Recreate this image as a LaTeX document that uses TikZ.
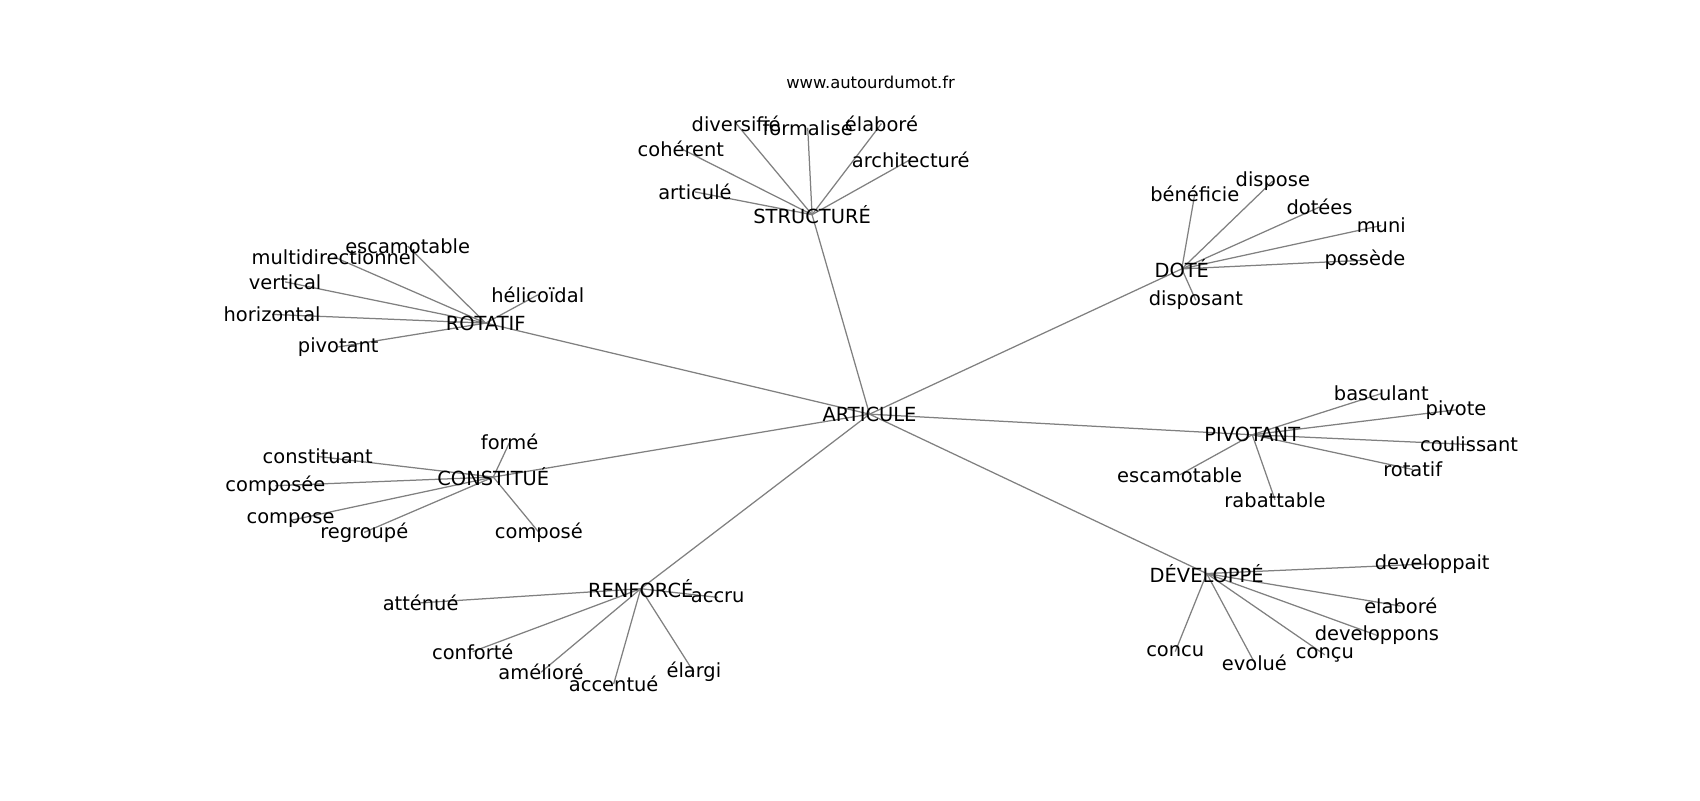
\documentclass[tikz,border=0pt]{standalone}
\usepackage{fontspec}
\setmainfont{DejaVu Sans}
\usetikzlibrary{backgrounds}
\tikzset{
  word/.style={inner sep=0pt, font=\fontsize{14}{16}\selectfont},
  link/.style={gray, line width=0.9pt},
}
\begin{document}
\begin{tikzpicture}[x=0.7806pt, y=-0.7806pt]
  \useasboundingbox (0,0) rectangle (1568,738);

  % Draw the title
  \node [font=\fontsize{11.8}{14}\selectfont] (site) at (803,76) {www.autourdumot.fr};

  % Draw the main words
  \node [word] (articule) at (802,382) {ARTICULE};
  \node [word] (structure) at (749,198) {STRUCTURÉ};
  \node [word] (rotatif) at (448,298) {ROTATIF};
  \node [word] (dote) at (1090,248) {DOTÉ};
  \node [word] (pivotant) at (1155,401) {PIVOTANT};
  \node [word] (constitue) at (455,440) {CONSTITUÉ};
  \node [word] (renforce) at (591,543) {RENFORCÉ};
  \node [word] (developpe) at (1113,529) {DÉVELOPPÉ};

  % Words round STRUCTURÉ
  \node [word] (articule2) at (641,177) {articulé};
  \node [word] (coherent) at (628,137) {cohérent};
  \node [word] (diversifie) at (679,114) {diversifié};
  \node [word] (formalise) at (745,118) {formalisé};
  \node [word] (elabore) at (813,114) {élaboré};
  \node [word] (architecture) at (840,147) {architecturé};

  % Words round ROTATIF
  \node [word] (escamotable) at (376,227) {escamotable};
  \node [word] (multidir) at (308,237) {multidirectionnel};
  \node [word] (vertical) at (263,260) {vertical};
  \node [word] (horizontal) at (251,290) {horizontal};
  \node [word] (pivotant2) at (312,320) {pivotant};
  \node [word] (helicoidal) at (496,272) {hélicoïdal};

  % Words round DOTÉ
  \node [word] (beneficie) at (1102,179) {bénéficie};
  \node [word] (dispose) at (1174,167) {dispose};
  \node [word] (dotees) at (1217,191) {dotées};
  \node [word] (muni) at (1274,208) {muni};
  \node [word] (possede) at (1259,240) {possède};
  \node [word] (disposant) at (1103,277) {disposant};

  % Words round PIVOTANT
  \node [word] (basculant) at (1274,363) {basculant};
  \node [word] (pivote) at (1343,378) {pivote};
  \node [word] (coulissant) at (1355,410) {coulissant};
  \node [word] (rotatif2) at (1303,433) {rotatif};
  \node [word] (escamotable2) at (1088,438) {escamotable};
  \node [word] (rabattable) at (1176,461) {rabattable};

  % Words round CONSTITUÉ
  \node [word] (forme) at (470,408) {formé};
  \node [word] (constituant) at (293,421) {constituant};
  \node [word] (composee) at (254,448) {composée};
  \node [word] (compose) at (268,480) {compose};
  \node [word] (regroupe) at (336,491) {regroupé};
  \node [word] (compose2) at (497,491) {composé};

  % Words round RENFORCÉ
  \node [word] (attenue) at (388,556) {atténué};
  \node [word] (accru) at (662,551) {accru};
  \node [word] (conforte) at (436,601) {conforté};
  \node [word] (ameliore) at (499,620) {amélioré};
  \node [word] (accentue) at (566,631) {accentué};
  \node [word] (elargi) at (640,620) {élargi};

  % Words round DÉVELOPPÉ
  \node [word] (developpait) at (1321,520) {developpait};
  \node [word] (elabore2) at (1292,559) {elaboré};
  \node [word] (developpons) at (1270,586) {developpons};
  \node [word] (concu2) at (1222,604) {conçu};
  \node [word] (evolue) at (1157,611) {evolué};
  \node [word] (concu) at (1084,601) {concu};

  % Draw the edges
  \begin{scope}[on background layer]
    \draw [link] (articule.center) -- (structure.center);
    \draw [link] (articule.center) -- (rotatif.center);
    \draw [link] (articule.center) -- (dote.center);
    \draw [link] (articule.center) -- (pivotant.center);
    \draw [link] (articule.center) -- (constitue.center);
    \draw [link] (articule.center) -- (renforce.center);
    \draw [link] (articule.center) -- (developpe.center);

    \draw [link] (structure.center) -- (articule2.center);
    \draw [link] (structure.center) -- (coherent.center);
    \draw [link] (structure.center) -- (diversifie.center);
    \draw [link] (structure.center) -- (formalise.center);
    \draw [link] (structure.center) -- (elabore.center);
    \draw [link] (structure.center) -- (architecture.center);

    \draw [link] (rotatif.center) -- (escamotable.center);
    \draw [link] (rotatif.center) -- (multidir.center);
    \draw [link] (rotatif.center) -- (vertical.center);
    \draw [link] (rotatif.center) -- (horizontal.center);
    \draw [link] (rotatif.center) -- (pivotant2.center);
    \draw [link] (rotatif.center) -- (helicoidal.center);

    \draw [link] (dote.center) -- (beneficie.center);
    \draw [link] (dote.center) -- (dispose.center);
    \draw [link] (dote.center) -- (dotees.center);
    \draw [link] (dote.center) -- (muni.center);
    \draw [link] (dote.center) -- (possede.center);
    \draw [link] (dote.center) -- (disposant.center);

    \draw [link] (pivotant.center) -- (basculant.center);
    \draw [link] (pivotant.center) -- (pivote.center);
    \draw [link] (pivotant.center) -- (coulissant.center);
    \draw [link] (pivotant.center) -- (rotatif2.center);
    \draw [link] (pivotant.center) -- (escamotable2.center);
    \draw [link] (pivotant.center) -- (rabattable.center);

    \draw [link] (constitue.center) -- (forme.center);
    \draw [link] (constitue.center) -- (constituant.center);
    \draw [link] (constitue.center) -- (composee.center);
    \draw [link] (constitue.center) -- (compose.center);
    \draw [link] (constitue.center) -- (regroupe.center);
    \draw [link] (constitue.center) -- (compose2.center);

    \draw [link] (renforce.center) -- (attenue.center);
    \draw [link] (renforce.center) -- (accru.center);
    \draw [link] (renforce.center) -- (conforte.center);
    \draw [link] (renforce.center) -- (ameliore.center);
    \draw [link] (renforce.center) -- (accentue.center);
    \draw [link] (renforce.center) -- (elargi.center);

    \draw [link] (developpe.center) -- (developpait.center);
    \draw [link] (developpe.center) -- (elabore2.center);
    \draw [link] (developpe.center) -- (developpons.center);
    \draw [link] (developpe.center) -- (concu2.center);
    \draw [link] (developpe.center) -- (evolue.center);
    \draw [link] (developpe.center) -- (concu.center);
  \end{scope}
\end{tikzpicture}
\end{document}
